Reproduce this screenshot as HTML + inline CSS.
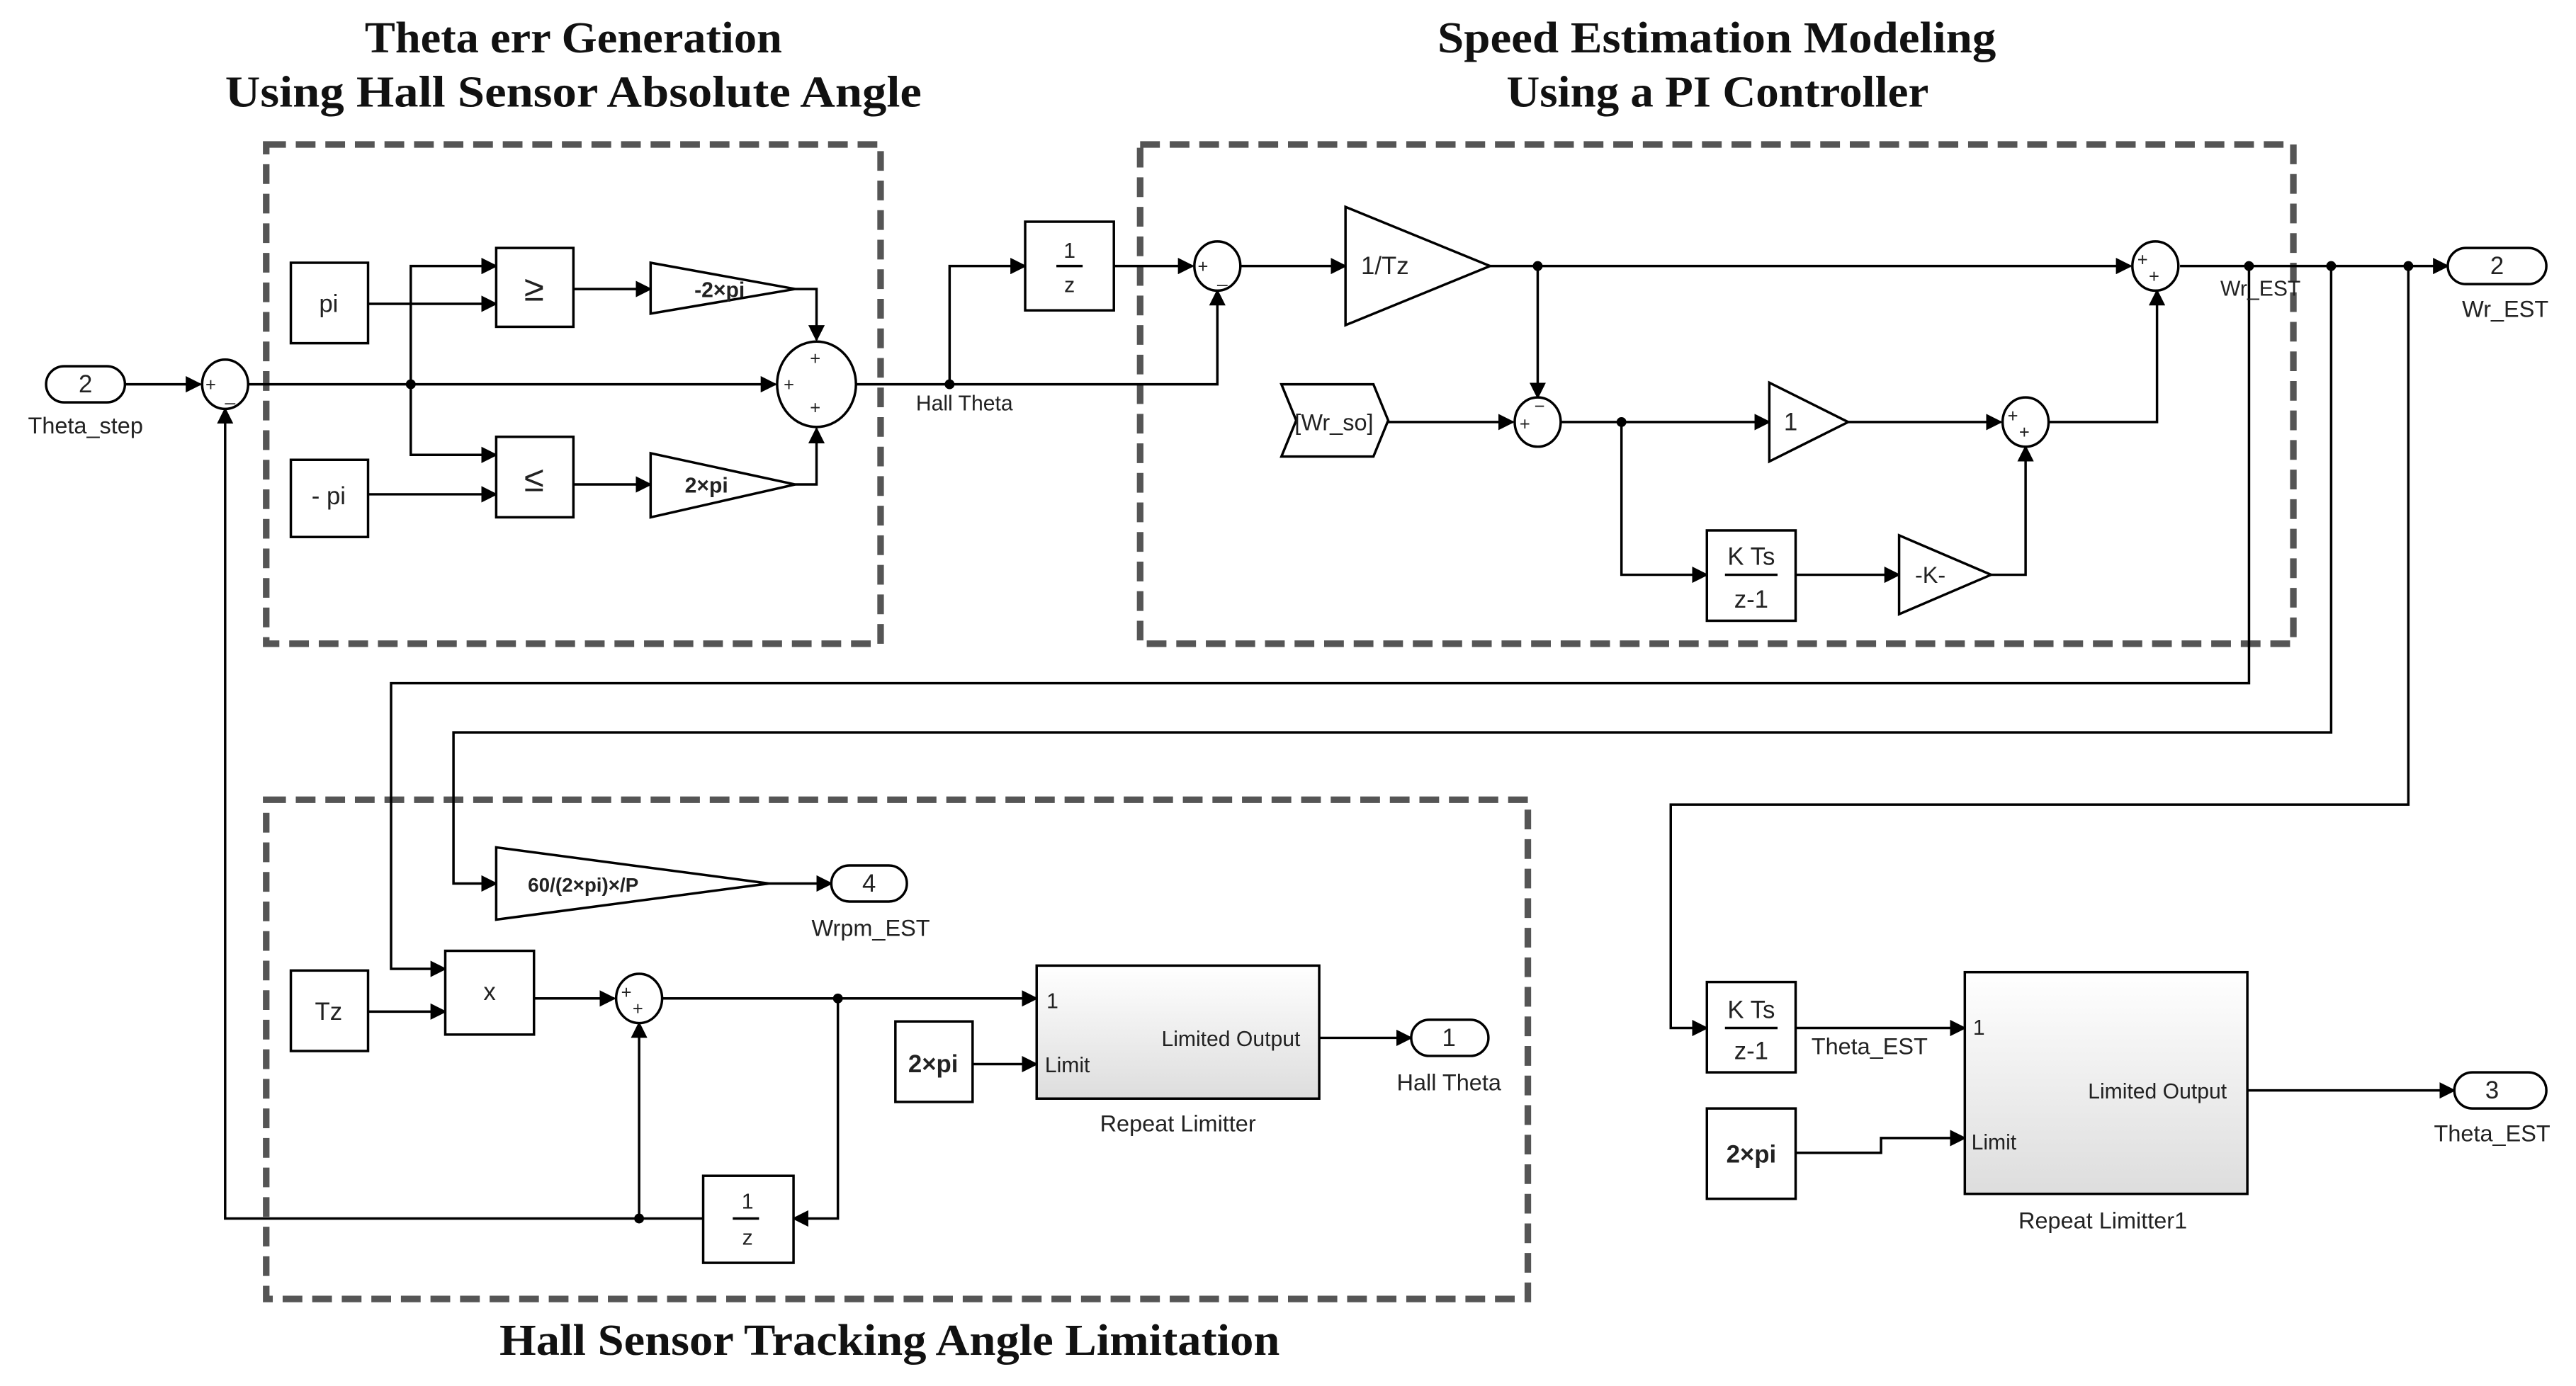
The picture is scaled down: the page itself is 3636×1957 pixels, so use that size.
<!DOCTYPE html>
<html><head><meta charset="utf-8"><style>
html,body{margin:0;padding:0;background:#fff}
svg{display:block}
text{font-family:"Liberation Sans",Arial,sans-serif;fill:#222}
.t{font-family:"Liberation Serif",serif;font-weight:bold;font-size:27px;fill:#111}
</style></head><body>
<svg width="3636" height="1957" viewBox="0 0 1568 844" xmlns="http://www.w3.org/2000/svg">
<defs>
<marker id="a" markerWidth="10" markerHeight="10" refX="9" refY="5" orient="auto" markerUnits="userSpaceOnUse"><path d="M0,0 L10,5 L0,10z" fill="#000"/></marker>
<linearGradient id="g" x1="0" y1="0" x2="0" y2="1"><stop offset="0" stop-color="#fff"/><stop offset="1" stop-color="#ddd"/></linearGradient>
</defs>
<g>
<text x="222" y="32" class="t" textLength="254" lengthAdjust="spacingAndGlyphs">Theta err Generation</text>
<text x="137" y="65" class="t" textLength="424" lengthAdjust="spacingAndGlyphs">Using Hall Sensor Absolute Angle</text>
<text x="875" y="32" class="t" textLength="340" lengthAdjust="spacingAndGlyphs">Speed Estimation Modeling</text>
<text x="917" y="65" class="t" textLength="257" lengthAdjust="spacingAndGlyphs">Using a PI Controller</text>
<text x="304" y="825" class="t" textLength="475" lengthAdjust="spacingAndGlyphs">Hall Sensor Tracking Angle Limitation</text>
</g>
<g fill="none" stroke="#555" stroke-width="4" stroke-dasharray="12,6">
<rect x="162" y="88" width="374" height="304"/>
<rect x="694" y="88" width="702" height="304"/>
<rect x="162" y="487" width="768" height="304"/>
</g>
<g fill="none" stroke="#000" stroke-width="1.5">
<path d="M76,234 H122" marker-end="url(#a)"/>
<path d="M151,234 H472" marker-end="url(#a)"/>
<path d="M250,234 V162 H302" marker-end="url(#a)"/>
<path d="M224,185 H302" marker-end="url(#a)"/>
<path d="M250,234 V277 H302" marker-end="url(#a)"/>
<path d="M224,301 H302" marker-end="url(#a)"/>
<path d="M349,176 H396" marker-end="url(#a)"/>
<path d="M349,295 H396" marker-end="url(#a)"/>
<path d="M484,176 H497 V207" marker-end="url(#a)"/>
<path d="M484,295 H497 V261" marker-end="url(#a)"/>
<path d="M521,234 H741 V177" marker-end="url(#a)"/>
<path d="M578,234 V162 H624" marker-end="url(#a)"/>
<path d="M678,162 H726" marker-end="url(#a)"/>
<path d="M755,162 H819" marker-end="url(#a)"/>
<path d="M907,162 H1297" marker-end="url(#a)"/>
<path d="M936,162 V242" marker-end="url(#a)"/>
<path d="M845,257 H921" marker-end="url(#a)"/>
<path d="M950,257 H1077" marker-end="url(#a)"/>
<path d="M1125,257 H1218" marker-end="url(#a)"/>
<path d="M1247,257 H1313 V177" marker-end="url(#a)"/>
<path d="M987,257 V350 H1039" marker-end="url(#a)"/>
<path d="M1093,350 H1156" marker-end="url(#a)"/>
<path d="M1212,350 H1233 V272" marker-end="url(#a)"/>
<path d="M1327,162 H1490" marker-end="url(#a)"/>
<path d="M1369,162 V416 H238 V590 H271" marker-end="url(#a)"/>
<path d="M1419,162 V446 H276 V538 H302" marker-end="url(#a)"/>
<path d="M468,538 H506" marker-end="url(#a)"/>
<path d="M1466,162 V490 H1017 V626 H1039" marker-end="url(#a)"/>
<path d="M224,616 H271" marker-end="url(#a)"/>
<path d="M325,608 H374" marker-end="url(#a)"/>
<path d="M403,608 H631" marker-end="url(#a)"/>
<path d="M592,648 H631" marker-end="url(#a)"/>
<path d="M803,632 H859" marker-end="url(#a)"/>
<path d="M510,608 V742 H483" marker-end="url(#a)"/>
<path d="M428,742 H137 V249" marker-end="url(#a)"/>
<path d="M389,742 V623" marker-end="url(#a)"/>
<path d="M1093,626 H1196" marker-end="url(#a)"/>
<path d="M1093,702 H1145 V693 H1196" marker-end="url(#a)"/>
<path d="M1368,664 H1494" marker-end="url(#a)"/>
</g>
<g fill="#000">
<circle cx="250" cy="234" r="3"/><circle cx="578" cy="234" r="3"/>
<circle cx="936" cy="162" r="3"/><circle cx="987" cy="257" r="3"/>
<circle cx="1369" cy="162" r="3"/><circle cx="1419" cy="162" r="3"/><circle cx="1466" cy="162" r="3"/>
<circle cx="510" cy="608" r="3"/><circle cx="389" cy="742" r="3"/>
</g>
<g fill="#fff" stroke="#000" stroke-width="1.5">
<rect x="28" y="223" width="48" height="22" rx="11"/>
<rect x="1490" y="151" width="60" height="22" rx="11"/>
<rect x="506" y="527" width="46" height="22" rx="11"/>
<rect x="859" y="621" width="47" height="22" rx="11"/>
<rect x="1494" y="653" width="56" height="22" rx="11"/>
<ellipse cx="137" cy="234" rx="14" ry="15"/>
<ellipse cx="497" cy="234" rx="24" ry="26"/>
<ellipse cx="741" cy="162" rx="14" ry="15"/>
<ellipse cx="1312" cy="162" rx="14" ry="15"/>
<ellipse cx="936" cy="257" rx="14" ry="15"/>
<ellipse cx="1233" cy="257" rx="14" ry="15"/>
<ellipse cx="389" cy="608" rx="14" ry="15"/>
<rect x="177" y="160" width="47" height="49"/>
<rect x="177" y="280" width="47" height="47"/>
<rect x="302" y="151" width="47" height="48"/>
<rect x="302" y="266" width="47" height="49"/>
<path d="M396,160 L484,176 L396,191z"/>
<path d="M396,276 L484,295 L396,315z"/>
<rect x="624" y="135" width="54" height="54"/>
<path d="M819,126 L907,162 L819,198z"/>
<path d="M780,234 H836 L845,256 L836,278 H780 L789,256z"/>
<path d="M1077,233 L1125,257 L1077,281z"/>
<rect x="1039" y="323" width="54" height="55"/>
<path d="M1156,326 L1212,350 L1156,374z"/>
<path d="M302,516 L468,538 L302,560z"/>
<rect x="177" y="591" width="47" height="49"/>
<rect x="271" y="579" width="54" height="51"/>
<rect x="545" y="622" width="47" height="49"/>
<rect x="631" y="588" width="172" height="81" fill="url(#g)"/>
<rect x="428" y="716" width="55" height="53"/>
<rect x="1039" y="598" width="54" height="55"/>
<rect x="1039" y="675" width="54" height="55"/>
<rect x="1196" y="592" width="172" height="135" fill="url(#g)"/>
<line x1="643" y1="162" x2="659" y2="162"/>
<line x1="1050" y1="350" x2="1082" y2="350"/>
<line x1="1050" y1="626" x2="1082" y2="626"/>
<line x1="446" y1="742" x2="462" y2="742"/>
</g>
<g font-size="15" text-anchor="middle">
<text x="52" y="239">2</text><text x="1520" y="167">2</text><text x="529" y="543">4</text><text x="882" y="637">1</text><text x="1517" y="669">3</text>
<text x="52" y="264" font-size="14">Theta_step</text>
<text x="1525" y="193" font-size="14">Wr_EST</text>
<text x="1376" y="180" font-size="13">Wr_EST</text>
<text x="587" y="250" font-size="13">Hall Theta</text>
<text x="530" y="570" font-size="14">Wrpm_EST</text>
<text x="882" y="664" font-size="14">Hall Theta</text>
<text x="1517" y="695" font-size="14">Theta_EST</text>
<text x="1138" y="642" font-size="14">Theta_EST</text>
<text x="717" y="689" font-size="14">Repeat Limitter</text>
<text x="1280" y="748" font-size="14">Repeat Limitter1</text>
<text x="200" y="190">pi</text>
<text x="200" y="307">- pi</text>
<text x="325" y="183" font-size="22">≥</text>
<text x="325" y="299" font-size="22">≤</text>
<text x="438" y="181" font-size="13" font-weight="bold">-2×pi</text>
<text x="430" y="300" font-size="13" font-weight="bold">2×pi</text>
<text x="651" y="157" font-size="13">1</text><text x="651" y="178" font-size="13">z</text>
<text x="843" y="167">1/Tz</text>
<text x="812" y="262" font-size="14">[Wr_so]</text>
<text x="1090" y="262">1</text>
<text x="1066" y="344">K Ts</text><text x="1066" y="370">z-1</text>
<text x="1175" y="355" font-size="14">-K-</text>
<text x="355" y="543" font-size="12" font-weight="bold">60/(2×pi)×/P</text>
<text x="200" y="621">Tz</text>
<text x="298" y="609">x</text>
<text x="568" y="653" font-weight="bold">2×pi</text>
<text x="455" y="736" font-size="13">1</text><text x="455" y="758" font-size="13">z</text>
<text x="1066" y="620">K Ts</text><text x="1066" y="645">z-1</text>
<text x="1066" y="708" font-weight="bold">2×pi</text>
</g>
<g font-size="13">
<text x="637" y="614">1</text><text x="636" y="653">Limit</text><text x="707" y="637">Limited Output</text>
<text x="1201" y="630">1</text><text x="1200" y="700">Limit</text><text x="1271" y="669">Limited Output</text>
</g>
<g font-size="11">
<text x="125" y="238">+</text><text x="137" y="244">_</text>
<text x="477" y="238">+</text><text x="493" y="222">+</text><text x="493" y="252">+</text>
<text x="729" y="166">+</text><text x="741" y="172">_</text>
<text x="1301" y="162">+</text><text x="1308" y="172">+</text>
<text x="925" y="262">+</text><text x="934" y="251">−</text>
<text x="1222" y="257">+</text><text x="1229" y="267">+</text>
<text x="378" y="608">+</text><text x="385" y="618">+</text>
</g>
</svg>
</body></html>
